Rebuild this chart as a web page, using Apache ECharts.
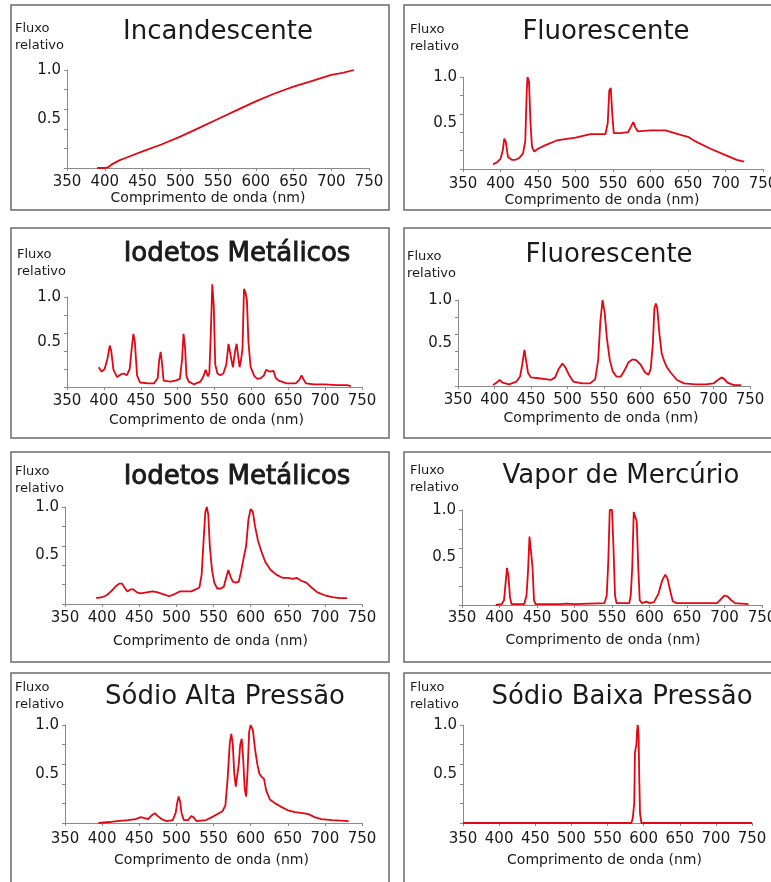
<!DOCTYPE html>
<html>
<head>
<meta charset="utf-8">
<script src="https://cdn.jsdelivr.net/npm/echarts@6/dist/echarts.min.js"></script>
<style>
html,body{margin:0;padding:0;background:#fff;}
#chart{width:771px;height:882px;}
</style>
</head>
<body>
<div id="chart"></div>
<script>
// ---------- data ----------
const xTickLabels = [350, 400, 450, 500, 550, 600, 650, 700, 750];
const yTickLabels = [0.5, 1.0];

const titles = ['Incandescente', 'Fluorescente', 'Iodetos Metálicos', 'Fluorescente',
  'Iodetos Metálicos', 'Vapor de Mercúrio', 'Sódio Alta Pressão', 'Sódio Baixa Pressão'];

const nmIncandescente = [390,400,405,410,420,430,450,475,500,525,550,575,600,625,650,675,700,715,730];
const fluxIncandescente = [0,0,0.01,0.04,0.08,0.11,0.17,0.24,0.32,0.41,0.5,0.59,0.68,0.76,0.83,0.89,0.95,0.97,1.0];

const nmFluorescente1 = [390,395,400,403,405,407,410,415,420,425,430,433,435,436,438,440,442,445,450,460,475,500,520,540,543,545,547,549,551,560,570,574,577,580,583,600,620,640,650,660,680,700,715,725];
const fluxFluorescente1 = [0.05,0.07,0.11,0.2,0.33,0.3,0.13,0.1,0.1,0.12,0.17,0.3,0.85,1.0,0.95,0.5,0.24,0.19,0.22,0.26,0.31,0.34,0.38,0.38,0.5,0.85,0.88,0.6,0.39,0.39,0.4,0.46,0.51,0.45,0.41,0.42,0.42,0.37,0.35,0.3,0.22,0.15,0.1,0.08];

const nmIodetos1 = [393,397,401,405,408,410,413,418,423,427,431,435,438,440,442,445,449,460,468,473,475,477,479,481,490,497,503,506,508,510,512,515,522,531,535,538,541,543,545,547,549,551,554,558,562,566,569,571,573,575,578,580,582,584,586,588,590,592,594,596,599,604,608,613,617,620,625,630,633,637,648,660,665,668,671,674,685,700,715,730,735];
const fluxIodetos1 = [0.22,0.17,0.2,0.32,0.46,0.4,0.19,0.11,0.14,0.15,0.13,0.2,0.45,0.59,0.5,0.13,0.05,0.04,0.04,0.1,0.3,0.39,0.25,0.07,0.06,0.07,0.09,0.3,0.59,0.45,0.12,0.06,0.03,0.06,0.12,0.19,0.12,0.15,0.6,1.14,0.9,0.25,0.15,0.13,0.15,0.25,0.48,0.46,0.3,0.22,0.4,0.48,0.35,0.22,0.3,0.43,1.09,1.05,0.96,0.5,0.22,0.12,0.09,0.1,0.13,0.19,0.17,0.18,0.1,0.07,0.04,0.04,0.08,0.13,0.08,0.04,0.03,0.03,0.02,0.02,0.01];

const nmFluorescente2 = [398,403,407,411,420,430,435,438,441,443,446,450,460,470,477,483,488,493,497,502,508,520,531,538,542,545,548,551,554,558,562,567,573,578,583,589,594,600,606,611,614,617,619,621,623,626,629,632,636,641,650,660,675,690,700,706,711,715,719,728,738];
const fluxFluorescente2 = [0.01,0.04,0.07,0.04,0.02,0.05,0.11,0.25,0.42,0.4,0.15,0.1,0.09,0.08,0.07,0.1,0.2,0.26,0.22,0.13,0.05,0.03,0.03,0.08,0.3,0.75,1.0,0.85,0.55,0.3,0.17,0.11,0.11,0.18,0.27,0.31,0.3,0.25,0.16,0.13,0.2,0.5,0.9,0.96,0.9,0.6,0.38,0.3,0.22,0.16,0.07,0.03,0.02,0.02,0.03,0.07,0.1,0.08,0.04,0.01,0.01];

const nmIodetos2 = [392,400,406,412,418,423,427,430,434,438,442,447,452,460,468,475,483,490,497,505,512,520,526,531,534,537,539,541,543,545,548,551,555,560,564,567,570,573,576,580,584,587,590,594,597,600,603,606,610,615,620,627,635,643,650,657,662,668,675,682,690,700,710,720,730];
const fluxIodetos2 = [0.06,0.07,0.09,0.13,0.18,0.21,0.21,0.17,0.13,0.15,0.15,0.12,0.11,0.12,0.13,0.12,0.1,0.08,0.1,0.13,0.13,0.13,0.15,0.17,0.3,0.7,0.95,1.0,0.92,0.6,0.35,0.22,0.16,0.16,0.18,0.27,0.35,0.28,0.23,0.22,0.23,0.33,0.45,0.6,0.87,0.98,0.95,0.8,0.65,0.53,0.43,0.35,0.3,0.27,0.27,0.26,0.27,0.24,0.22,0.17,0.12,0.09,0.07,0.06,0.06];

const nmMercurio = [395,403,406,408,410,412,414,416,433,436,438,440,442,444,446,448,480,490,500,540,543,545,547,550,552,554,556,573,575,577,579,581,583,585,587,590,596,600,606,612,617,621,624,627,631,636,690,695,700,704,709,714,732];
const fluxMercurio = [0,0.01,0.05,0.22,0.39,0.3,0.08,0.01,0.01,0.1,0.35,0.72,0.74,0.4,0.05,0.01,0.01,0.015,0.01,0.02,0.1,0.45,1.0,1.0,0.6,0.1,0.02,0.02,0.1,0.4,0.98,0.97,0.88,0.4,0.05,0.02,0.035,0.02,0.03,0.12,0.26,0.32,0.28,0.17,0.04,0.02,0.02,0.06,0.1,0.09,0.05,0.02,0.01];

const nmSodioAlta = [395,410,420,435,445,452,457,462,467,471,475,480,487,495,499,501,503,505,507,510,516,520,523,527,540,548,555,562,566,569,572,574,576,578,580,582,584,586,588,590,592,594,596,598,600,603,606,609,612,615,618,621,626,633,640,650,660,670,678,686,695,710,732];
const fluxSodioAlta = [0,0.01,0.02,0.03,0.04,0.06,0.05,0.04,0.08,0.1,0.07,0.04,0.02,0.03,0.1,0.2,0.27,0.22,0.1,0.03,0.03,0.07,0.06,0.02,0.03,0.06,0.09,0.12,0.18,0.45,0.82,0.91,0.8,0.5,0.37,0.38,0.6,0.8,0.86,0.65,0.35,0.27,0.55,0.93,1.0,0.95,0.75,0.6,0.5,0.47,0.45,0.33,0.24,0.2,0.17,0.13,0.11,0.1,0.09,0.06,0.04,0.03,0.02];

const nmSodioBaixa = [350,400,450,500,550,583,585,587,588,590,591,592,593,594,595,597,650,700,750];
const fluxSodioBaixa = [0,0,0,0,0,0,0.05,0.2,0.72,0.8,0.95,1.0,0.9,0.45,0.1,0,0,0,0];

// ---------- layout ----------
const spectra = [
  [nmIncandescente, fluxIncandescente],
  [nmFluorescente1, fluxFluorescente1],
  [nmIodetos1, fluxIodetos1],
  [nmFluorescente2, fluxFluorescente2],
  [nmIodetos2, fluxIodetos2],
  [nmMercurio, fluxMercurio],
  [nmSodioAlta, fluxSodioAlta],
  [nmSodioBaixa, fluxSodioBaixa]
];
// box [x,y,w,h], grid [l,t,w,h], title centre, fluxo pos, label margin, name gap, name shift
const layout = [
  {box:[11,5,378,205],   grid:[67,70,302,98],  t:[218,32],  f:[15,29],   m:7, g:22, s:-10},
  {box:[404,5,380,205],  grid:[463,77,300,92], t:[606,32],  f:[410,30],  m:8, g:24, s:-11},
  {box:[11,228,378,210], grid:[67,297,295,90], t:[237,254], f:[17,255],  m:7, g:26, s:-8},
  {box:[404,228,380,210],grid:[458,300,292,86],t:[609,255], f:[407,257], m:7, g:25, s:-3},
  {box:[11,452,378,210], grid:[65,507,297,97], t:[237,477], f:[15,472],  m:7, g:30, s:-3},
  {box:[404,452,380,210],grid:[462,510,300,95],t:[621,476], f:[410,471], m:6, g:28, s:-9},
  {box:[11,673,378,220], grid:[65,725,297,98], t:[225,697], f:[15,688],  m:9, g:30, s:-2},
  {box:[404,673,380,220],grid:[463,725,289,98],t:[622,697], f:[410,688], m:9, g:30, s:-3}
];

const FONT = 'DejaVu Sans';
const RED = '#e30613';
const TXT = '#1a1a1a';

const option = {
  animation: false,
  backgroundColor: '#ffffff',
  title: [], grid: [], xAxis: [], yAxis: [], series: [], graphic: []
};

layout.forEach((L, i) => {
  const heavy = titles[i] === 'Iodetos Metálicos';
  option.title.push({
    text: titles[i], left: L.t[0], top: L.t[1], padding: 0,
    textAlign: 'center', textVerticalAlign: 'middle',
    textStyle: {fontFamily: FONT, fontSize: 26, fontWeight: 'normal', color: TXT,
      textBorderColor: heavy ? TXT : 'transparent', textBorderWidth: heavy ? 0.9 : 0}
  });
  option.grid.push({
    left: L.grid[0], top: L.grid[1], width: L.grid[2], height: L.grid[3],
    containLabel: false, outerBoundsMode: 'none'
  });
  option.xAxis.push({
    type: 'value', gridIndex: i, min: 350, max: 750, interval: 50,
    name: 'Comprimento de onda (nm)', nameLocation: 'middle', nameGap: L.g,
    nameTextStyle: {fontFamily: FONT, fontSize: 14, color: TXT,
      padding: L.s < 0 ? [0, -2 * L.s, 0, 0] : [0, 0, 0, 2 * L.s]},
    axisLine: {show: true, lineStyle: {color: '#8a8a8a', width: 1}},
    axisTick: {show: true, length: 3, lineStyle: {color: '#8a8a8a'}},
    splitLine: {show: false},
    axisLabel: {fontFamily: FONT, fontSize: 15, color: TXT, margin: L.m,
      customValues: xTickLabels, showMinLabel: true, showMaxLabel: true,
      hideOverlap: false}
  });
  option.yAxis.push({
    type: 'value', gridIndex: i, min: 0, max: 1, interval: 0.2,
    axisLine: {show: true, lineStyle: {color: '#8a8a8a', width: 1}},
    axisTick: {show: true, length: 3, lineStyle: {color: '#8a8a8a'}},
    splitLine: {show: false},
    axisLabel: {fontFamily: FONT, fontSize: 15, color: TXT, margin: 6,
      customValues: yTickLabels, formatter: v => Number(v).toFixed(1)}
  });
  const [nm, fl] = spectra[i];
  option.series.push({
    type: 'line', xAxisIndex: i, yAxisIndex: i,
    data: nm.map((x, k) => [x, fl[k]]),
    showSymbol: false, symbol: 'none', clip: false, smooth: false,
    lineStyle: {color: RED, width: 1.8}, z: 5
  });
  option.graphic.push({
    type: 'rect', z: 0, silent: true,
    shape: {x: L.box[0], y: L.box[1], width: L.box[2], height: L.box[3]},
    style: {fill: 'none', stroke: '#6b6b6b', lineWidth: 1.5}
  });
  option.graphic.push({
    type: 'text', z: 10, silent: true, x: L.f[0], y: L.f[1],
    style: {text: 'Fluxo', fontFamily: FONT, fontSize: 13, fill: TXT, textAlign: 'left', textVerticalAlign: 'middle'}
  });
  option.graphic.push({
    type: 'text', z: 10, silent: true, x: L.f[0], y: L.f[1] + 17,
    style: {text: 'relativo', fontFamily: FONT, fontSize: 13, fill: TXT, textAlign: 'left', textVerticalAlign: 'middle'}
  });
});

const chart = echarts.init(document.getElementById('chart'), null, {renderer: 'canvas'});
chart.setOption(option);
</script>
</body>
</html>
